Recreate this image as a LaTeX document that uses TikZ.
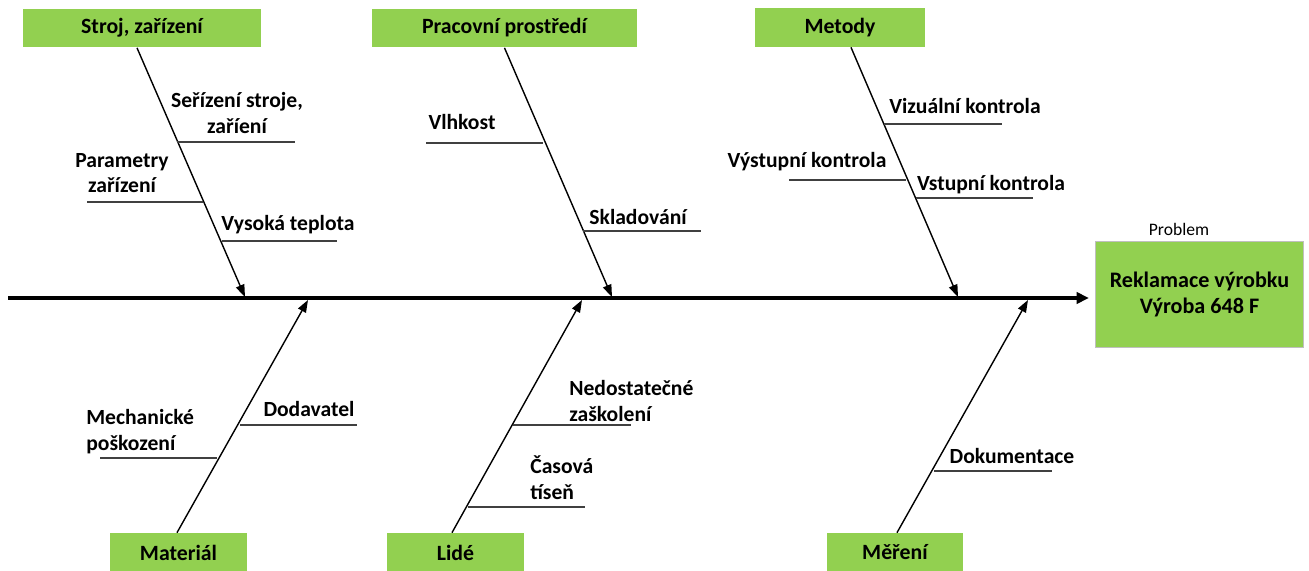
\documentclass[tikz,border=0pt]{standalone}
\usepackage{fontspec}
\setmainfont{Carlito}
\usetikzlibrary{arrows.meta}
\definecolor{fishgreen}{HTML}{92D050}
\definecolor{twiggray}{HTML}{404040}
\tikzset{
cause/.style={shape=rectangle, fill=fishgreen, inner sep=0pt, minimum height=0.78cm, font=\fontsize{12.4}{14}\selectfont\bfseries},
effect/.style={shape=rectangle, fill=fishgreen, draw=black!25, line width=0.8pt, inner sep=0pt, minimum width=4.16cm, minimum height=2.12cm, align=center, font=\fontsize{12.6}{14.3}\selectfont\bfseries},
spine/.style={line width=1.9pt, -{Triangle[length=7pt,width=6.5pt]}, shorten >=0.12cm},
branch/.style={line width=0.8pt, -{Triangle[length=7pt,width=5pt]}},
twig/.style={line width=0.7pt, twiggray},
lbl/.style={inner sep=0pt, font=\fontsize{12.3}{14.7}\selectfont\bfseries}}

\begin{document}
\begin{tikzpicture}[x=0.02cm, y=-0.02cm]
                \useasboundingbox (0,0) rectangle (1309,571);

                \node[cause, minimum width=4.76cm] (stroj) at (142,28) {Stroj, zařízení};
                \node[cause, minimum width=5.3cm] (prostredi) at (504.5,28) {Pracovní prostředí};
                \node[cause, minimum width=3.42cm] (metody) at (840,27.5) {Metody};
                \node[cause, minimum width=2.74cm] (material) at (178.5,552.5) {Materiál};
                \node[cause, minimum width=2.74cm] (lide) at (455.5,552.5) {Lidé};
                \node[cause, minimum width=2.72cm] (mereni) at (895,552.5) {Měření};
                \node[effect] (problem) at (1199.5,294.5) {Reklamace výrobku\\Výroba 648 F};
                \node[inner sep=0pt, font=\fontsize{10}{12}\selectfont] (nadpis) at (1179,229) {Problem};

                \coordinate (ocas) at (8,298);
                \coordinate (t1) at (245,297);
                \coordinate (t2) at (612,297);
                \coordinate (t3) at (958,297);
                \coordinate (b1) at (308,300);
                \coordinate (b2) at (582,300);
                \coordinate (b3) at (1028,300);

                \draw[spine] (ocas) -- (ocas -| problem.west);
                \draw[branch] ([xshift=-0.1cm]stroj.south) -- (t1);
                \draw[branch] (prostredi.south) -- (t2);
                \draw[branch] ([xshift=0.22cm]metody.south) -- (t3);
                \draw[branch] ([xshift=-0.03cm]material.north) -- (b1);
                \draw[branch] ([xshift=-0.07cm]lide.north) -- (b2);
                \draw[branch] ([xshift=0.04cm]mereni.north) -- (b3);

                \coordinate (s11a) at (177,142); \coordinate (s11b) at (295,142);
                \coordinate (s12a) at (87,202);  \coordinate (s12b) at (203,202);
                \coordinate (s13a) at (222,241); \coordinate (s13b) at (337,241);
                \coordinate (s21a) at (426,143); \coordinate (s21b) at (543,143);
                \coordinate (s22a) at (583,231); \coordinate (s22b) at (701,231);
                \coordinate (s31a) at (884,124); \coordinate (s31b) at (1002,124);
                \coordinate (s32a) at (789,180); \coordinate (s32b) at (906,180);
                \coordinate (s33a) at (916,198); \coordinate (s33b) at (1033,198);
                \coordinate (s41a) at (240,425); \coordinate (s41b) at (357,425);
                \coordinate (s42a) at (100,458); \coordinate (s42b) at (217,458);
                \coordinate (s51a) at (513,425); \coordinate (s51b) at (631,425);
                \coordinate (s52a) at (468,507); \coordinate (s52b) at (585,507);
                \coordinate (s61a) at (934,471); \coordinate (s61b) at (1052,471);

                \foreach \s in {11,12,13,21,22,31,32,33,41,42,51,52,61}
                    \draw[twig] (s\s a) -- (s\s b);

                \node[lbl, align=center] (l11) at (237,113) {Seřízení stroje,\\zaříení};
                \node[lbl, align=center] (l12) at (122,173) {Parametry\\zařízení};
                \node[lbl] (l13) at (288,225) {Vysoká teplota};
                \node[lbl] (l21) at (462,122) {Vlhkost};
                \node[lbl] (l22) at (638,217) {Skladování};
                \node[lbl] (l31) at (965,106) {Vizuální kontrola};
                \node[lbl] (l32) at (807,162) {Výstupní kontrola};
                \node[lbl] (l33) at (991,185) {Vstupní kontrola};
                \node[lbl] (l41) at (309,409) {Dodavatel};
                \node[lbl, align=left, anchor=west] (l42) at (86,432) {Mechanické\\poškození};
                \node[lbl, align=left, anchor=west] (l51) at (569,401) {Nedostatečné\\zaškolení};
                \node[lbl, align=left, anchor=west] (l52) at (530,478) {Časová\\tíseň};
                \node[lbl] (l61) at (1012,456) {Dokumentace};

            \end{tikzpicture}
\end{document}
